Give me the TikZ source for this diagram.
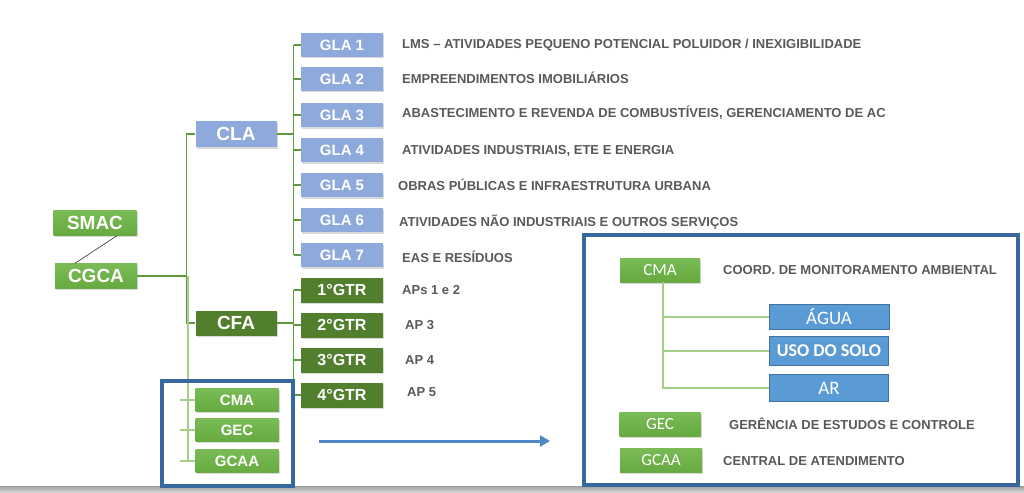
\documentclass[tikz,border=0pt]{standalone}
\usepackage{fontspec}
\setmainfont{Liberation Sans}
\newfontfamily\calib{Carlito}
\usepackage{xcolor}
\usepackage{tikz}
\usetikzlibrary{arrows.meta,positioning,calc,shadows}
\definecolor{cGreen}{HTML}{66AA40}
\definecolor{cGreenTop}{HTML}{7ABB55}
\definecolor{cDark}{HTML}{527F2E}
\definecolor{cLav}{HTML}{8EA9DB}
\definecolor{cSky}{HTML}{5B9BD5}
\definecolor{cSkyEdge}{HTML}{41719C}
\definecolor{cFrame}{HTML}{36679E}
\definecolor{cTxt}{HTML}{595959}
\definecolor{cLine}{HTML}{5F9A3C}
\definecolor{cLight}{HTML}{A5CF88}
\definecolor{cArrow}{HTML}{4F88C8}
\tikzset{
  gbox/.style={top color=cGreenTop,bottom color=cGreen,draw=none,minimum width=#1,minimum height=25,inner sep=0pt,text=white,
    drop shadow={opacity=0.3,shadow xshift=1pt,shadow yshift=-1.5pt}},
  gbox/.default=82,
  dbox/.style={fill=cDark,minimum width=82,minimum height=25,inner sep=0pt,text=white,font=\fontsize{16}{18}\selectfont\bfseries,
    drop shadow={opacity=0.3,shadow xshift=1pt,shadow yshift=-1.5pt}},
  lbox/.style={fill=cLav,minimum width=82,minimum height=24,inner sep=0pt,text=white,font=\fontsize{15}{17}\selectfont\bfseries,
    drop shadow={opacity=0.3,shadow xshift=1pt,shadow yshift=-1.5pt}},
  sbox/.style={fill=cSky,draw=cSkyEdge,line width=0.8pt,minimum width=119,minimum height=26,inner sep=0pt,text=white,font=\calib\fontsize{19}{21}\selectfont},
  desc/.style={anchor=west,inner sep=0pt,text=cTxt,font=\fontsize{13}{15}\selectfont\bfseries},
  tree/.style={draw=cLine,line width=1.1pt},
  treelt/.style={draw=cLight,line width=2pt},
  frame/.style={draw=cFrame,line width=3.5pt},
}

\begin{document}
\begin{tikzpicture}[x=1pt,y=-1pt]
  \useasboundingbox (0,0) rectangle (1024,492);
  % grey strip at the foot
  \shade[top color=gray!75,bottom color=gray!35] (0,486) rectangle (1024,492);
  % left part
  \node[gbox=83,font=\fontsize{19}{21}\selectfont\bfseries] (smac) at (95,223) {SMAC};
  \node[gbox=82,font=\fontsize{19}{21}\selectfont\bfseries] (cgca) at (96,276) {CGCA};
  \draw[cTxt!80!black,line width=0.7pt] ([xshift=22]smac.south) -- ([xshift=-21]cgca.north);
  \node[lbox,minimum width=81,minimum height=26,font=\fontsize{19}{21}\selectfont\bfseries] (cla) at (236,134) {CLA};
  \node[dbox,minimum width=81,font=\fontsize{19}{21}\selectfont\bfseries] (cfa) at (236,323) {CFA};
  \foreach \n/\t/\y in {cmaL/CMA/400,gecL/GEC/430,gcaaL/GCAA/461}{
    \node[gbox=83,minimum height=23,font=\fontsize{15}{17}\selectfont\bfseries] (\n) at (237,\y) {\t};}
  % GLA column
  \foreach \i/\y in {1/45,2/79,3/115,4/150,5/185,6/220,7/255}{
    \node[lbox] (gla\i) at (342,\y) {GLA \i};}
  \foreach \i/\y in {1/290,2/325,3/360,4/395}{
    \node[dbox] (gtr\i) at (342,\y) {\i°GTR};}
  % descriptions
  \node[desc] (d1) at (402,45) {LMS – ATIVIDADES PEQUENO POTENCIAL POLUIDOR / INEXIGIBILIDADE};
  \node[desc] (d2) at (402,78) {EMPREENDIMENTOS IMOBILIÁRIOS};
  \node[desc] (d3) at (402,113) {ABASTECIMENTO E REVENDA DE COMBUSTÍVEIS, GERENCIAMENTO DE AC};
  \node[desc] (d4) at (402,151) {ATIVIDADES INDUSTRIAIS, ETE E ENERGIA};
  \node[desc] (d5) at (398,185) {OBRAS PÚBLICAS E INFRAESTRUTURA URBANA};
  \node[desc] (d6) at (399,222) {ATIVIDADES NÃO INDUSTRIAIS E OUTROS SERVIÇOS};
  \node[desc] (d7) at (402,257) {EAS E RESÍDUOS};
  \node[desc] (a1) at (402,290) {APs 1 e 2};
  \node[desc] (a2) at (405,325) {AP 3};
  \node[desc] (a3) at (405,360) {AP 4};
  \node[desc] (a4) at (407,392) {AP 5};
  % tree lines
  \draw[tree] (cla.west) -- ++(-9,0) coordinate (t1) |- (cfa.west);
  \draw[tree] (cgca.east) -- (cgca.east -| t1);
  \draw[treelt] ([xshift=2]cgca.east -| t1) coordinate (t0) -- (t0 |- gcaaL.west);
  \foreach \n in {cmaL,gecL,gcaaL}{\draw[treelt,line width=1.2pt] (\n.west) -- ++(-15,0);}
  \draw[tree] (cla.east) -- ++(17,0) coordinate (t2);
  \draw[tree] (t2 |- gla1.west) -- (t2 |- gla7.west);
  \foreach \i in {1,...,7}{\draw[tree] (t2 |- gla\i.west) -- (gla\i.west);}
  \draw[tree] (cfa.east) -- (cfa.east -| t2);
  \draw[tree] (t2 |- gtr1.west) -- (t2 |- gtr4.west);
  \foreach \i in {1,...,4}{\draw[tree] (t2 |- gtr\i.west) -- (gtr\i.west);}
  % frames and arrow
  \draw[frame] (162,381) rectangle (293,486);
  \draw[frame] (584,235) rectangle (1018,485);
  \coordinate (arrS) at (319,441);
  \coordinate (arrE) at (550,441);
  \draw[cArrow,line width=3pt,-{Triangle[length=10pt,width=11pt]}] (arrS) -- (arrE);
  % detail box
  \node[gbox=80,minimum height=24,font=\calib\fontsize{17}{19}\selectfont] (cmaR) at (660,270) {CMA};
  \node[gbox=81,minimum height=24,font=\calib\fontsize{17}{19}\selectfont] (gecR) at (660,424) {GEC};
  \node[gbox=82,minimum height=24,font=\calib\fontsize{17}{19}\selectfont] (gcaaR) at (661,460) {GCAA};
  \node[sbox,minimum width=120,minimum height=25] (agua) at (829,317) {ÁGUA};
  \node[sbox,minimum height=29,font=\calib\fontsize{18}{20}\selectfont\bfseries] (solo) at (829,351) {USO DO SOLO};
  \node[sbox,minimum height=27] (ar) at (829,388) {AR};
  \draw[treelt] ([xshift=3]cmaR.south) coordinate (t3) |- (ar.west);
  \draw[treelt] (t3 |- agua.west) -- (agua.west);
  \draw[treelt] (t3 |- solo.west) -- (solo.west);
  \node[desc] (r1) at (723,270) {COORD. DE MONITORAMENTO AMBIENTAL};
  \node[desc] (r2) at (729,424) {GERÊNCIA DE ESTUDOS E CONTROLE};
  \node[desc] (r3) at (723,461) {CENTRAL DE ATENDIMENTO};
\end{tikzpicture}
\end{document}
